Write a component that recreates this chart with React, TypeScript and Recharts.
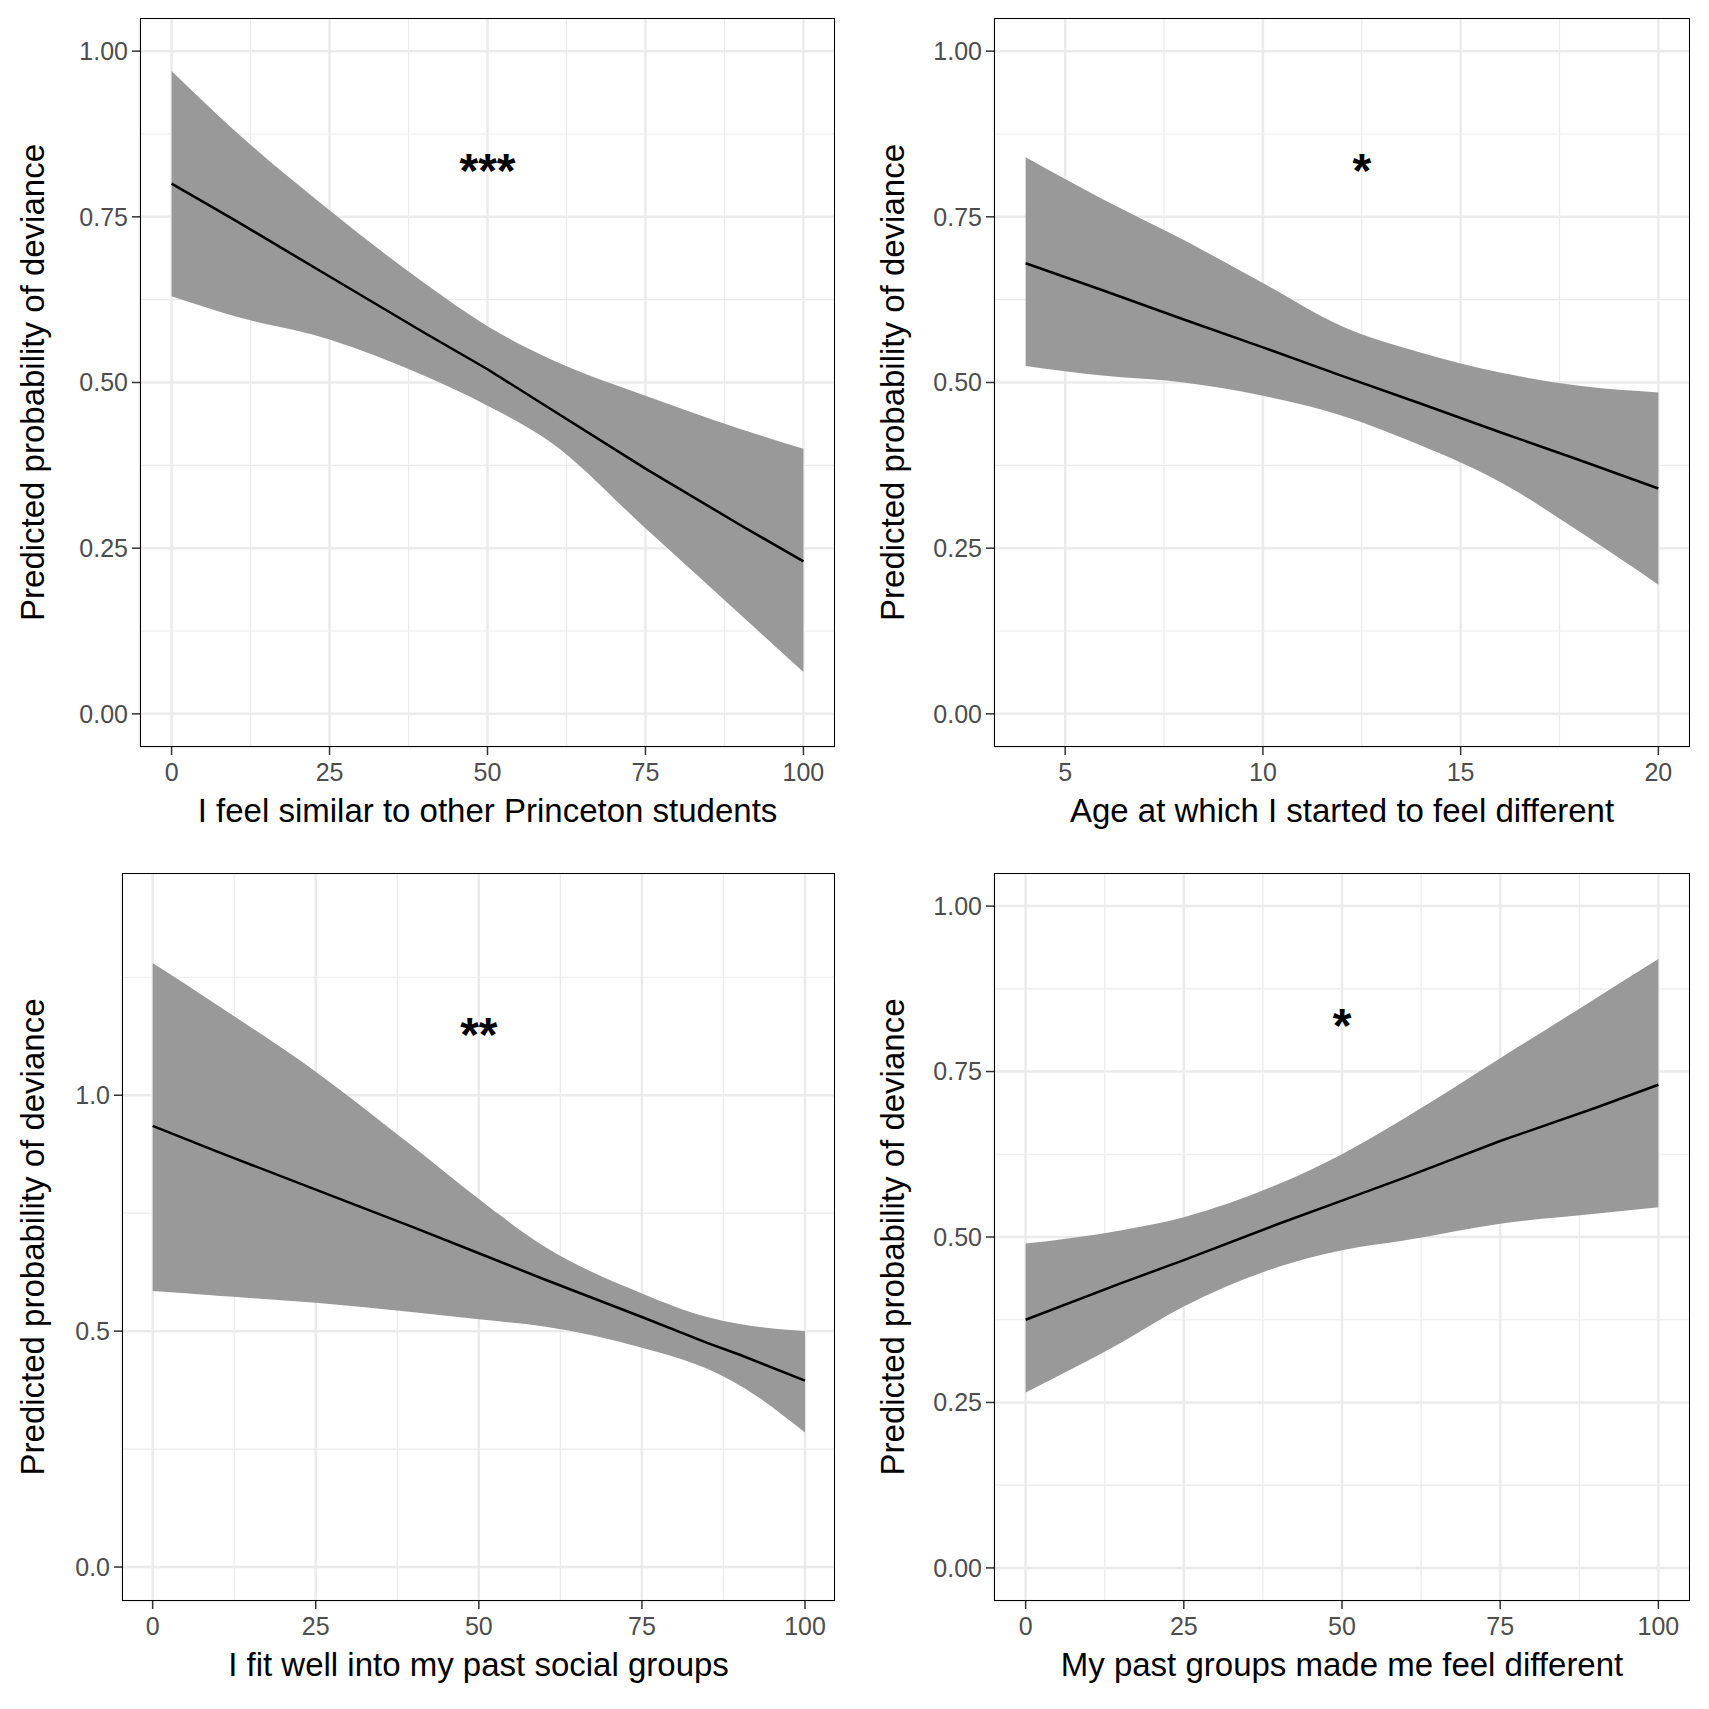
import React from 'react';
import { ComposedChart, Area, Line, XAxis, YAxis, CartesianGrid, ReferenceDot } from 'recharts';

const p1X = [0, 10, 25, 40, 50, 60, 75, 90, 100];
const p1Lo = [0.63, 0.60, 0.565, 0.51, 0.465, 0.41, 0.28, 0.15, 0.063];
const p1Hi = [0.97, 0.88, 0.76, 0.65, 0.585, 0.535, 0.48, 0.43, 0.40];
const p1Line = [0.80, 0.745, 0.66, 0.575, 0.52, 0.46, 0.37, 0.285, 0.23];

const p2X = [4, 6, 8, 10, 12, 14, 16, 18, 20];
const p2Lo = [0.525, 0.51, 0.50, 0.48, 0.45, 0.405, 0.35, 0.275, 0.195];
const p2Hi = [0.84, 0.775, 0.715, 0.65, 0.585, 0.545, 0.515, 0.495, 0.485];
const p2Line = [0.68, 0.638, 0.595, 0.553, 0.51, 0.468, 0.425, 0.383, 0.34];

const p3X = [0, 10, 25, 40, 50, 60, 75, 85, 90, 100];
const p3Lo = [0.585, 0.575, 0.56, 0.54, 0.525, 0.51, 0.465, 0.42, 0.385, 0.285];
const p3Hi = [1.28, 1.19, 1.05, 0.89, 0.78, 0.68, 0.58, 0.53, 0.515, 0.50];
const p3Line = [0.935, 0.88, 0.80, 0.72, 0.665, 0.61, 0.53, 0.475, 0.45, 0.395];

const p4X = [0, 15, 25, 40, 50, 60, 75, 90, 100];
const p4Lo = [0.265, 0.34, 0.395, 0.455, 0.48, 0.495, 0.52, 0.535, 0.545];
const p4Hi = [0.49, 0.51, 0.53, 0.58, 0.625, 0.68, 0.77, 0.86, 0.92];
const p4Line = [0.375, 0.43, 0.465, 0.52, 0.555, 0.59, 0.645, 0.695, 0.73];

const xTicks100 = [0, 25, 50, 75, 100];
const xMinor100 = [12.5, 37.5, 62.5, 87.5];
const xTicksAge = [5, 10, 15, 20];
const xMinorAge = [7.5, 12.5, 17.5];
const yTicksQ = [0, 0.25, 0.5, 0.75, 1];
const yMinorQ = [0.125, 0.375, 0.625, 0.875];
const yTicksH = [0, 0.5, 1];
const yMinorH = [0.25, 0.75, 1.25];

const build = (x: number[], lo: number[], hi: number[], ln: number[]) =>
  x.map((v, i) => ({ x: v, band: [lo[i], hi[i]], line: ln[i] }));

const FONT = '"Liberation Sans", Arial, sans-serif';

type P = {
  data: any[]; left: number; top: number; plotW: number; plotH: number; yw: number;
  xDomain: [number, number]; yDomain: [number, number]; xTicks: number[]; xMinor: number[];
  yTicks: number[]; yMinor: number[]; yFmt: (v: number) => string; xTitle: string;
  star: string; starX: number; starY: number;
};

const Panel = (p: P) => {
  const xh = 100;
  return (
    <div style={{ position: 'absolute', left: p.left - p.yw, top: p.top }}>
      <ComposedChart width={p.plotW + p.yw} height={p.plotH + xh} data={p.data}
        margin={{ top: 0, right: 0, bottom: 0, left: 0 }} style={{ fontFamily: FONT }}>
        <CartesianGrid stroke="#ebebeb" strokeWidth={1.2}
          horizontalValues={p.yMinor} verticalValues={p.xMinor} />
        <CartesianGrid stroke="#ebebeb" strokeWidth={2.5} />
        <XAxis type="number" dataKey="x" domain={p.xDomain} ticks={p.xTicks} height={xh}
          allowDataOverflow axisLine={false} tickSize={8} tickLine={{ stroke: '#333', strokeWidth: 1.5 }}
          tick={{ fill: '#4d4d4d', fontSize: 25 }} tickMargin={8}
          label={{ value: p.xTitle, position: 'insideTop', offset: 52, fill: '#000', fontSize: 33 }} />
        <YAxis type="number" domain={p.yDomain} ticks={p.yTicks} width={p.yw} allowDataOverflow
          axisLine={false} tickSize={8} tickLine={{ stroke: '#333', strokeWidth: 1.5 }}
          tick={{ fill: '#4d4d4d', fontSize: 25 }} tickFormatter={p.yFmt} tickMargin={4}
          label={(lp: any) => {
            const vb = lp.viewBox;
            const cx = vb.x + 32; const cy = vb.y + vb.height / 2;
            return <text x={cx} y={cy} transform={`rotate(-90 ${cx} ${cy})`} textAnchor="middle"
              dominantBaseline="central" fontSize={33} fill="#000">Predicted probability of deviance</text>;
          }} />
        <Area dataKey="band" type="monotone" stroke="none" fill="#999999" fillOpacity={1} isAnimationActive={false} />
        <Line dataKey="line" type="linear" stroke="#000" strokeWidth={2.5} dot={false} isAnimationActive={false} />
        <ReferenceDot x={p.starX} y={p.starY} r={0} stroke="none" fill="none"
          label={{ value: p.star, position: 'center', fontSize: 48, fontWeight: 'bold', fill: '#000' }} />
      </ComposedChart>
      <div style={{ position: 'absolute', left: p.yw, top: 0, width: p.plotW, height: p.plotH,
        border: '1.5px solid #000', boxSizing: 'border-box', pointerEvents: 'none' }} />
    </div>
  );
};

const fq = (v: number) => v.toFixed(2);
const fh = (v: number) => v.toFixed(1);

export default function App() {
  return (
    <div style={{ position: 'absolute', left: 0, top: 0, width: 1709, height: 1709, background: '#fff' }}>
      <Panel data={build(p1X, p1Lo, p1Hi, p1Line)} left={140} top={18} plotW={695} plotH={729} yw={140}
        xDomain={[-5, 105]} yDomain={[-0.05, 1.05]} xTicks={xTicks100} xMinor={xMinor100}
        yTicks={yTicksQ} yMinor={yMinorQ} yFmt={fq} xTitle="I feel similar to other Princeton students"
        star="***" starX={50} starY={0.82} />
      <Panel data={build(p2X, p2Lo, p2Hi, p2Line)} left={994} top={18} plotW={696} plotH={729} yw={134}
        xDomain={[3.2, 20.8]} yDomain={[-0.05, 1.05]} xTicks={xTicksAge} xMinor={xMinorAge}
        yTicks={yTicksQ} yMinor={yMinorQ} yFmt={fq} xTitle="Age at which I started to feel different"
        star="*" starX={12.5} starY={0.82} />
      <Panel data={build(p3X, p3Lo, p3Hi, p3Line)} left={122} top={873} plotW={713} plotH={728} yw={122}
        xDomain={[-4.7, 104.6]} yDomain={[-0.072, 1.471]} xTicks={xTicks100} xMinor={xMinor100}
        yTicks={yTicksH} yMinor={yMinorH} yFmt={fh} xTitle="I fit well into my past social groups"
        star="**" starX={50} starY={1.13} />
      <Panel data={build(p4X, p4Lo, p4Hi, p4Line)} left={994} top={873} plotW={696} plotH={728} yw={134}
        xDomain={[-5, 105]} yDomain={[-0.05, 1.05]} xTicks={xTicks100} xMinor={xMinor100}
        yTicks={yTicksQ} yMinor={yMinorQ} yFmt={fq} xTitle="My past groups made me feel different"
        star="*" starX={50} starY={0.82} />
    </div>
  );
}
